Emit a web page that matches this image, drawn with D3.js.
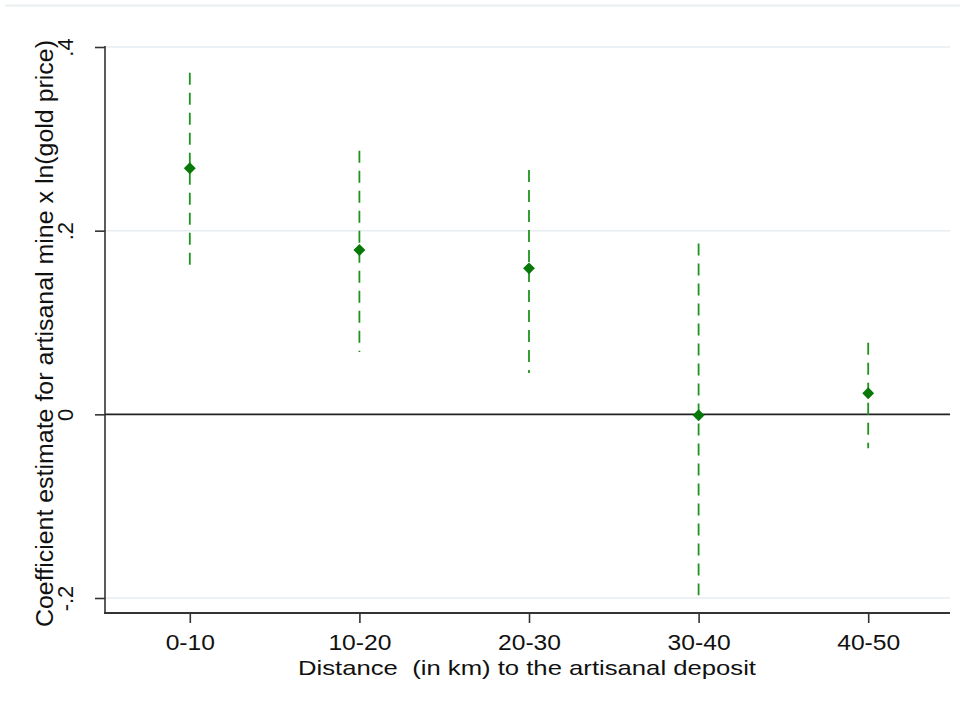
<!DOCTYPE html>
<html>
<head>
<meta charset="utf-8">
<script src="https://cdn.jsdelivr.net/npm/d3@7"></script>
<style>
  html, body { margin: 0; padding: 0; background: #fff; }
  svg text { font-family: "Liberation Sans", Arial, sans-serif; fill: #111; white-space: pre; }
</style>
</head>
<body>
<svg id="chart" width="965" height="704"></svg>
<script>
const categories = ["0-10", "10-20", "20-30", "30-40", "40-50"];
const estimates  = [0.268, 0.179, 0.159, -0.001, 0.023];
const ciLower    = [0.157, 0.068, 0.045, -0.197, -0.037];
const ciUpper    = [0.372, 0.287, 0.266, 0.186, 0.078];
const yTicks     = [-0.2, 0, 0.2, 0.4];
const yTickLabels = ["-.2", "0", ".2", ".4"];
const xTitle = "Distance  (in km) to the artisanal deposit";
const yTitle = "Coefficient estimate for artisanal mine x ln(gold price)";

const svg = d3.select("#chart");
const plotLeft = 105, plotRight = 950, plotBottom = 613;

const x = d3.scaleLinear().domain([0.5, 5.5]).range([105, 953]);
const y = d3.scaleLinear().domain([-0.2, 0.4]).range([598, 47]);

// outer region top border
svg.append("line").attr("x1", 5).attr("x2", 960).attr("y1", 5.5).attr("y2", 5.5)
  .attr("stroke", "#e9eef1").attr("stroke-width", 2);

// gridlines
svg.append("g").selectAll("line").data(yTicks.filter(d => d !== 0)).join("line")
  .attr("x1", plotLeft).attr("x2", plotRight)
  .attr("y1", d => y(d)).attr("y2", d => y(d))
  .attr("stroke", "#e6edf2").attr("stroke-width", 1.5);

// zero line
svg.append("line").attr("x1", plotLeft).attr("x2", plotRight)
  .attr("y1", y(0)).attr("y2", y(0))
  .attr("stroke", "#222").attr("stroke-width", 1.6);

// y axis
const yAxis = d3.axisLeft(y).tickValues(yTicks).tickSize(10)
  .tickFormat((d, i) => yTickLabels[i]);
const gy = svg.append("g").attr("transform", `translate(${plotLeft},0)`).call(yAxis);
gy.select(".domain").attr("d", `M0,${y(0.4) - 1}V${plotBottom}`).attr("stroke", "#333").attr("stroke-width", 1.6);
gy.selectAll(".tick line").attr("stroke", "#333").attr("stroke-width", 1.6);
gy.selectAll(".tick text")
  .attr("x", null).attr("dy", null)
  .attr("transform", "translate(-32,0) rotate(-90)")
  .attr("text-anchor", "middle")
  .style("font-size", "22px")
  .style("font-family", "'Liberation Sans', Arial, sans-serif")
  .attr("fill", "#111");

// x axis
const xAxis = d3.axisBottom(x).tickValues(d3.range(1, categories.length + 1))
  .tickSize(10).tickFormat((d) => categories[d - 1]);
const gx = svg.append("g").attr("transform", `translate(0,${plotBottom})`).call(xAxis);
gx.select(".domain").attr("d", `M${plotLeft - 1},0H${plotRight}`).attr("stroke", "#333").attr("stroke-width", 2);
gx.selectAll(".tick line").attr("stroke", "#333").attr("stroke-width", 1.6);
gx.selectAll(".tick text")
  .attr("y", 37).attr("dy", null)
  .style("font-size", "22px")
  .style("font-family", "'Liberation Sans', Arial, sans-serif")
  .attr("fill", "#111")
  .each(function () {
    const w = this.getComputedTextLength();
    d3.select(this).attr("textLength", w * 1.12).attr("lengthAdjust", "spacingAndGlyphs");
  });

// axis titles
svg.append("text").attr("x", 527).attr("y", 675)
  .attr("text-anchor", "middle").style("font-size", "21px")
  .attr("textLength", 458).attr("lengthAdjust", "spacingAndGlyphs")
  .text(xTitle);
svg.append("text")
  .attr("transform", `translate(53,${(40 + 627) / 2}) rotate(-90)`)
  .attr("text-anchor", "middle").style("font-size", "23px")
  .attr("textLength", 587).attr("lengthAdjust", "spacingAndGlyphs")
  .text(yTitle);

// confidence intervals
const data = categories.map((c, i) => ({ i: i + 1, est: estimates[i], lo: ciLower[i], hi: ciUpper[i] }));
svg.append("g").selectAll("line").data(data).join("line")
  .attr("x1", d => x(d.i)).attr("x2", d => x(d.i))
  .attr("y1", d => y(d.hi)).attr("y2", d => y(d.lo))
  .attr("stroke", "#1f931f").attr("stroke-width", 1.8)
  .attr("stroke-dasharray", "12,8");

// point estimates
svg.append("g").selectAll("path").data(data).join("path")
  .attr("transform", d => `translate(${x(d.i)},${y(d.est)})`)
  .attr("d", d3.symbol().type(d3.symbolDiamond2).size(90)())
  .attr("fill", "#087808");
</script>
</body>
</html>
